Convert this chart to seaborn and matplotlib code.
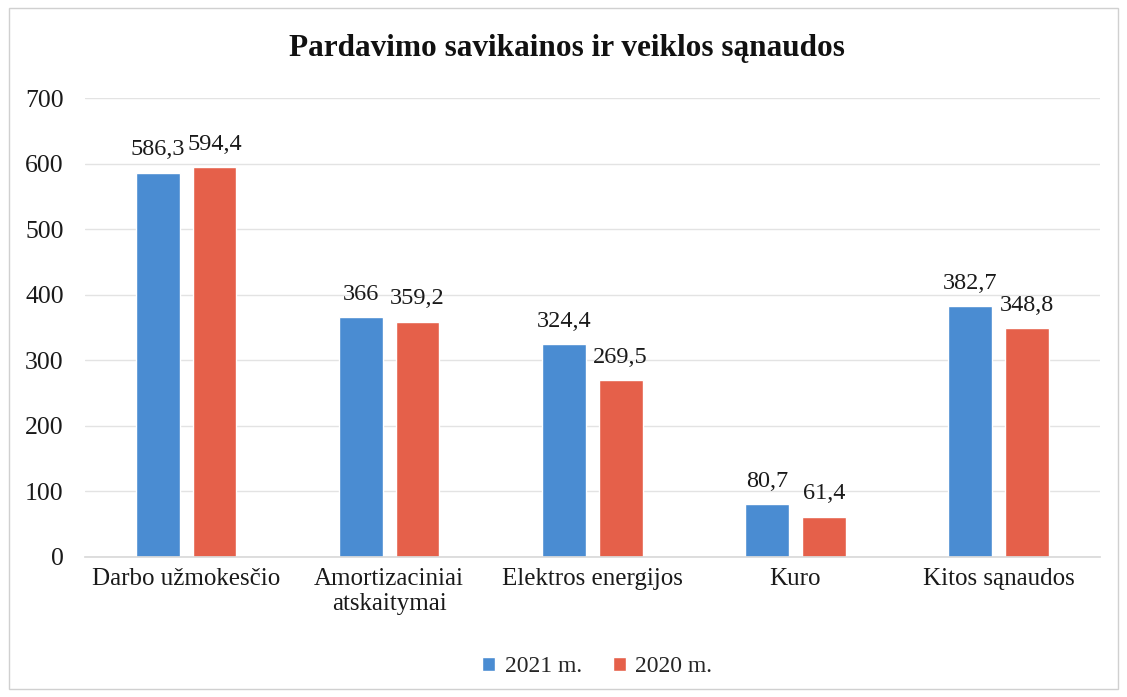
import matplotlib
matplotlib.use("Agg")
import matplotlib.pyplot as plt
import seaborn as sns
import pandas as pd
from matplotlib.patches import Rectangle

categories = ["Darbo užmokesčio", "Amortizaciniai\natskaitymai", "Elektros energijos", "Kuro", "Kitos sąnaudos"]
series_names = ["2021 m.", "2020 m."]
values_2021 = [586.3, 366.0, 324.4, 80.7, 382.7]
values_2020 = [594.4, 359.2, 269.5, 61.4, 348.8]
y_ticks = [0, 100, 200, 300, 400, 500, 600, 700]

df = pd.DataFrame({
    "cat": categories * 2,
    "series": [series_names[0]] * len(categories) + [series_names[1]] * len(categories),
    "value": values_2021 + values_2020,
})

sns.set_theme(style="white")
plt.rcParams["font.family"] = ["Liberation Serif", "DejaVu Serif"]

fig = plt.figure(figsize=(11.27, 6.97), dpi=100)
ax = fig.add_axes([0.075, 0.201, 0.901, 0.658])

colors = ["#4A8CD2", "#E5604A"]
sns.barplot(data=df, x="cat", y="value", hue="series", palette=colors,
            width=0.56, gap=0.23, ax=ax, saturation=1, legend=True)

def fmt(v):
    s = f"{v:.1f}".replace(".", ",")
    if s.endswith(",0"):
        s = s[:-2]
    return s

for cont in ax.containers:
    ax.bar_label(cont, labels=[fmt(b.get_height()) for b in cont], padding=9,
                 fontsize=17.5, color="#1a1a1a")

ax.set_ylim(0, 700)
ax.set_yticks(y_ticks)
ax.set_yticklabels([str(t) for t in y_ticks], fontsize=18.5, color="#1a1a1a")
ax.tick_params(axis="x", labelsize=18, colors="#1a1a1a", length=0, pad=8)
ax.tick_params(axis="y", length=0, pad=15)
ax.set_xlabel("")
ax.set_ylabel("")
ax.yaxis.grid(True, color="#e3e3e3", linewidth=1)
ax.set_axisbelow(True)
for s in ["left", "right", "top"]:
    ax.spines[s].set_visible(False)
ax.spines["bottom"].set_color("#d9d9d9")

fig.text(0.503, 0.931, "Pardavimo savikainos ir veiklos sąnaudos", fontsize=22.5,
         fontweight="bold", color="#111111", ha="center", va="center")

leg = ax.legend(loc="upper center", bbox_to_anchor=(0.505, -0.17), ncol=2, frameon=False,
                fontsize=17, handlelength=0.55, handleheight=0.55, handletextpad=0.4,
                columnspacing=1.3)

fig.patches.append(Rectangle((0.008, 0.012), 0.984, 0.976, transform=fig.transFigure,
                             fill=False, edgecolor="#d0d0d0", linewidth=1))

fig.savefig("out.png", dpi=100)
